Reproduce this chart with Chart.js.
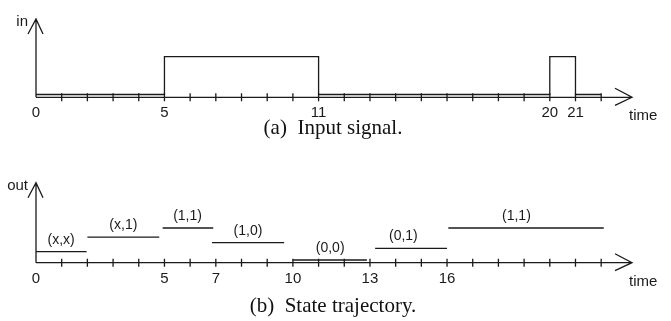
<!DOCTYPE html>
<html>
<head>
<meta charset="utf-8">
<script src="https://cdn.jsdelivr.net/npm/chart.js@4"></script>
<style>
  body { margin: 0; background: #fff; width: 671px; height: 321px; position: relative; overflow: hidden; }
  canvas { position: absolute; left: 0; }
  .cap {
    position: absolute; left: 0; width: 666px; text-align: center;
    font-family: "Liberation Serif", "Times New Roman", serif; font-size: 21px;
    color: #111; white-space: pre;
  }
</style>
</head>
<body>
<canvas id="chartIn" width="671" height="130" style="top:0"></canvas>
<div class="cap" style="top:115px">(a)  Input signal.</div>
<canvas id="chartOut" width="671" height="145" style="top:150px"></canvas>
<div class="cap" style="top:293px">(b)  State trajectory.</div>

<script>
// dados
const inTimes = [0, 5, 11, 20, 21, 22];
const inLevels = [0.36, 5.2, 0.36, 5.2, 0.36, 0.36];
const inTickLabels = [0, 5, 11, 20, 21];

const stateNames = ["(x,x)", "(x,1)", "(1,1)", "(1,0)", "(0,0)", "(0,1)", "(1,1)"];
const stateStart = [0, 2, 4.93, 6.85, 10, 13.2, 16.05];
const stateEnd = [1.97, 4.8, 6.9, 9.66, 12.88, 16, 22.1];
const stateLevel = [1.38, 3.2, 4.34, 2.5, 0.34, 1.8, 4.34];
const stateLabelAt = [0.98, 3.4, 5.9, 8.25, 11.45, 14.3, 18.7];
const outTickLabels = [0, 5, 7, 10, 13, 16];

const timeMax = 23.2;
const lastTick = 22;
const INK = "#1a1a1a";
const SANS = "'Liberation Sans', Arial, sans-serif";

// eixos com seta, tracinhos e textos
const axesArrows = {
  id: "axesArrows",
  afterDatasetsDraw(chart, args, opts) {
    const { ctx } = chart;
    const x = chart.scales.x, y = chart.scales.y;
    const x0 = x.getPixelForValue(0);
    const y0 = y.getPixelForValue(0);
    const right = x.right, top = y.top;

    ctx.save();
    ctx.strokeStyle = INK;
    ctx.lineWidth = 1.3;
    ctx.beginPath();
    ctx.moveTo(x0, y0); ctx.lineTo(right, y0);
    ctx.moveTo(right - 17, y0 - 9); ctx.lineTo(right, y0); ctx.lineTo(right - 17, y0 + 8);
    ctx.moveTo(x0, y0); ctx.lineTo(x0, top);
    ctx.moveTo(x0 - 8, top + 15); ctx.lineTo(x0, top); ctx.lineTo(x0 + 7, top + 15);
    x.ticks.forEach((t) => {
      if (t.value > 0 && t.value <= lastTick) {
        const px = x.getPixelForValue(t.value);
        ctx.moveTo(px, y0 - 4); ctx.lineTo(px, y0 + 4);
      }
    });
    ctx.stroke();

    ctx.fillStyle = INK;
    ctx.font = "15px " + SANS;
    ctx.textBaseline = "middle";
    ctx.textAlign = "right";
    ctx.fillText(opts.yLabel, x0 - 8, top + 3);
    ctx.textAlign = "left";
    ctx.fillText("time", right - 3, y0 + 19);

    if (opts.segLabels) {
      ctx.font = "14px " + SANS;
      ctx.textAlign = "center";
      opts.segLabels.forEach((name, i) => {
        const px = x.getPixelForValue(stateLabelAt[i]);
        const py = y.getPixelForValue(stateLevel[i]);
        ctx.fillText(name, px, py - 12);
      });
    }
    ctx.restore();
  },
};

function xAxis(labels, axisHeight) {
  return {
    type: "linear",
    min: 0,
    max: timeMax,
    grid: { display: false, drawTicks: false },
    border: { display: false },
    afterFit: (scale) => { scale.height = axisHeight; },
    ticks: {
      stepSize: 1,
      autoSkip: false,
      maxRotation: 0,
      padding: 7,
      color: INK,
      font: { family: SANS, size: 15 },
      callback: (v) => (labels.includes(v) ? String(v) : ""),
    },
  };
}

const commonOpts = {
  responsive: false,
  animation: false,
  devicePixelRatio: 1,
  plugins: { legend: { display: false }, tooltip: { enabled: false } },
  elements: { point: { radius: 0 } },
};

new Chart(document.getElementById("chartIn"), {
  type: "line",
  data: {
    datasets: [{
      data: inTimes.map((t, i) => ({ x: t, y: inLevels[i] })),
      stepped: "before",
      borderColor: INK,
      borderWidth: 1.3,
      fill: false,
    }],
  },
  options: {
    ...commonOpts,
    layout: { padding: { left: 36, right: 39, top: 19, bottom: 0 } },
    scales: {
      x: xAxis(inTickLabels, 130 - 97.3),
      y: { display: false, min: 0, max: 10 },
    },
    plugins: { ...commonOpts.plugins, axesArrows: { yLabel: "in" } },
  },
  plugins: [axesArrows],
});

new Chart(document.getElementById("chartOut"), {
  type: "line",
  data: {
    datasets: stateNames.map((name, i) => ({
      label: name,
      data: [{ x: stateStart[i], y: stateLevel[i] }, { x: stateEnd[i], y: stateLevel[i] }],
      borderColor: INK,
      borderWidth: 1.3,
      fill: false,
    })),
  },
  options: {
    ...commonOpts,
    layout: { padding: { left: 36, right: 39, top: 32.7, bottom: 0 } },
    scales: {
      x: xAxis(outTickLabels, 145 - 112.7),
      y: { display: false, min: 0, max: 10 },
    },
    plugins: { ...commonOpts.plugins, axesArrows: { yLabel: "out", segLabels: stateNames } },
  },
  plugins: [axesArrows],
});
</script>
</body>
</html>
